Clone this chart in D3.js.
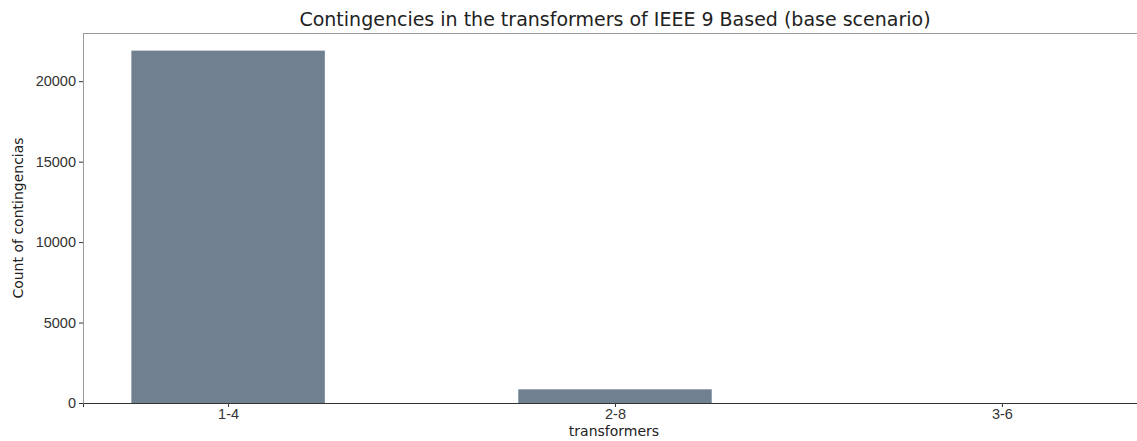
<!DOCTYPE html>
<html>
<head>
<meta charset="utf-8">
<script src="https://cdn.jsdelivr.net/npm/d3@7"></script>
<style>
  body { margin: 0; background: #fff; }
  svg { display: block; font-family: "DejaVu Sans", sans-serif; }
  .axis text { fill: #333; font-size: 14.5px; }
</style>
</head>
<body>
<svg id="chart" width="1137" height="441"></svg>
<script>
var categories = ["1-4", "2-8", "3-6"];
var counts = [21900, 850, 0];
var yTicks = [0, 5000, 10000, 15000, 20000];

var svg = d3.select("#chart"),
    margin = {top: 33, right: -10, bottom: 38, left: 83},
    width = 1137 - margin.left - margin.right,
    height = 441 - margin.top - margin.bottom,
    g = svg.append("g").attr("transform", "translate(" + margin.left + "," + margin.top + ")");

var x = d3.scaleLinear().domain([-0.375, categories.length - 1 + 0.375]).range([0, width]);
var y = d3.scaleLinear().domain([0, d3.max(counts) * 1.05]).range([height, 0]);
var barWidth = 0.5;

g.selectAll(".bar")
    .data(counts)
  .enter().append("rect")
    .attr("class", "bar")
    .attr("x", function(d, i) { return x(i - barWidth / 2); })
    .attr("width", x(barWidth) - x(0))
    .attr("y", function(d) { return y(d); })
    .attr("height", function(d) { return height - y(d); })
    .attr("fill", "#708090");

// spines
g.append("line").attr("x1", 0).attr("x2", width).attr("y1", 0.5).attr("y2", 0.5)
    .attr("stroke", "#999");
g.append("line").attr("x1", 0.5).attr("x2", 0.5).attr("y1", 0).attr("y2", height)
    .attr("stroke", "#999");

g.append("g")
    .attr("class", "axis axis--y")
    .call(d3.axisLeft(y).tickValues(yTicks).tickSize(4).tickPadding(3).tickFormat(d3.format("d")))
    .call(function(a) { a.select(".domain").remove(); a.selectAll("line").attr("stroke", "#333"); });

g.append("g")
    .attr("class", "axis axis--x")
    .attr("transform", "translate(0," + height + ")")
    .call(d3.axisBottom(x).tickValues(d3.range(categories.length)).tickSize(4).tickPadding(2)
      .tickFormat(function(d) { return categories[d]; }))
    .call(function(a) { a.select(".domain").attr("stroke", "#333"); a.selectAll("line").attr("stroke", "#333"); });

svg.append("text")
    .attr("x", margin.left + (1137 - margin.left + 10) / 2)
    .attr("y", 26)
    .attr("text-anchor", "middle")
    .style("font-size", "19px")
    .attr("fill", "#222")
    .text("Contingencies in the transformers of IEEE 9 Based (base scenario)");

svg.append("text")
    .attr("x", 614)
    .attr("y", 436)
    .attr("text-anchor", "middle")
    .style("font-size", "14px")
    .attr("fill", "#222")
    .text("transformers");

svg.append("text")
    .attr("transform", "translate(23," + (margin.top + height / 2) + ") rotate(-90)")
    .attr("text-anchor", "middle")
    .style("font-size", "14px")
    .attr("fill", "#222")
    .text("Count of contingencias");
</script>
</body>
</html>
